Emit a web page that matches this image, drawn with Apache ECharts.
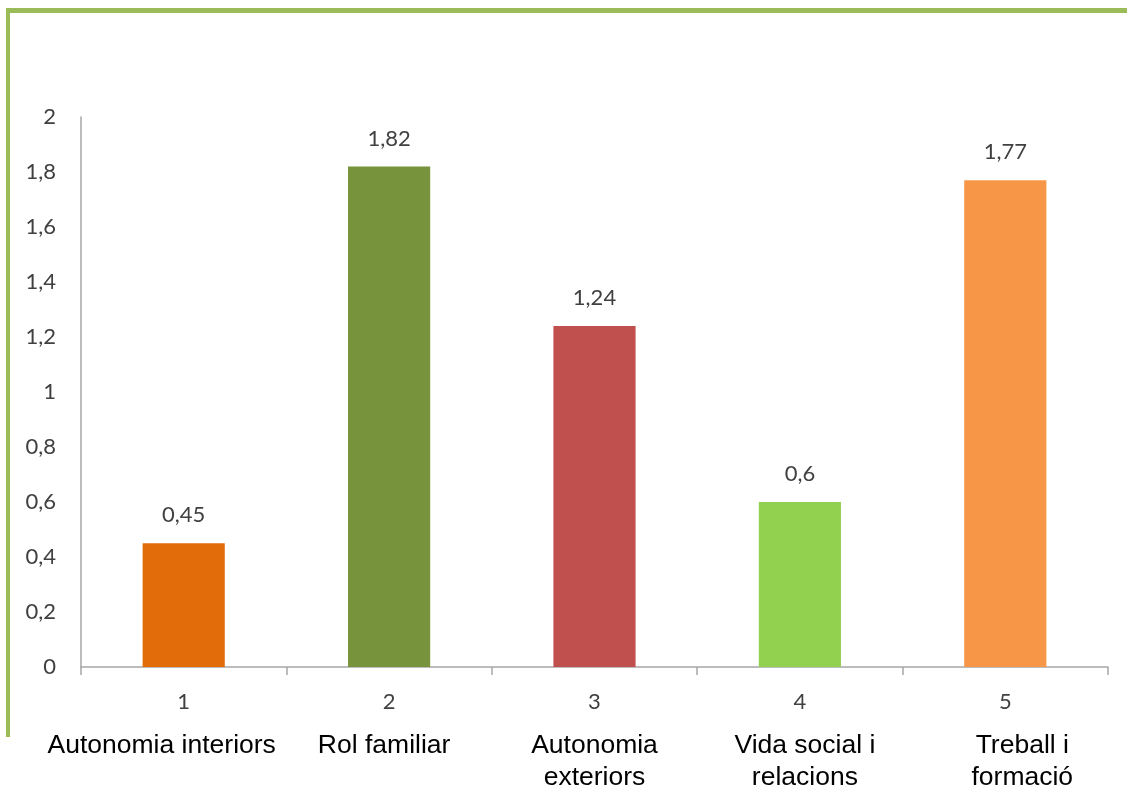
<!DOCTYPE html>
<html>
<head>
<meta charset="utf-8">
<script src="https://cdn.jsdelivr.net/npm/echarts@6/dist/echarts.min.js"></script>
<style>
  html, body { margin: 0; padding: 0; background: #ffffff; overflow: hidden; }
  #chart { width: 1127px; height: 794px; }
</style>
</head>
<body>
<div id="chart"></div>
<script>
// Category numbers, their descriptive names and the mean score for each
const categories = ['1', '2', '3', '4', '5'];
const categoryNames = [
  'Autonomia interiors',
  'Rol familiar',
  'Autonomia\nexteriors',
  'Vida social i\nrelacions',
  'Treball i\nformació'
];
const values = [0.45, 1.82, 1.24, 0.6, 1.77];
const barColors = ['#E36C0A', '#77933C', '#C0504D', '#92D050', '#F79646'];
const yTicks = { min: 0, max: 2, interval: 0.2 };

// horizontal nudge (px) of each descriptive name relative to its column centre
const nameShift = [-22, -5, 0, 5, 17];

const decimalComma = v => String(Math.round(v * 100) / 100).replace('.', ',');

const chart = echarts.init(document.getElementById('chart'), null, {
  renderer: 'canvas', width: 1127, height: 794
});

const axisGrey = '#A6A6A6';
const numberFont = 'Lato, "Open Sans", sans-serif';

chart.setOption({
  backgroundColor: '#ffffff',
  animation: false,
  graphic: [
    // green frame along the top and left edges
    { type: 'rect', shape: { x: 6, y: 8, width: 1121, height: 5 }, style: { fill: '#9BBB59' } },
    { type: 'rect', shape: { x: 6, y: 8, width: 4, height: 729 }, style: { fill: '#9BBB59' } }
  ],
  grid: { left: 81, top: 117, width: 1027, height: 555, containLabel: false },
  xAxis: [
    {
      type: 'category',
      data: categories,
      position: 'bottom',
      axisLine: { show: true, lineStyle: { color: axisGrey, width: 1.5 } },
      axisTick: { show: true, length: 8, alignWithLabel: false, lineStyle: { color: axisGrey, width: 1.5 } },
      axisLabel: { margin: 24, color: '#404040', fontSize: 22, fontFamily: numberFont }
    },
    {
      type: 'category',
      data: categoryNames.map((name, i) => ({
        value: name,
        textStyle: {
          padding: nameShift[i] < 0 ? [0, -2 * nameShift[i], 0, 0] : [0, 0, 0, 2 * nameShift[i]]
        }
      })),
      position: 'bottom',
      offset: 0,
      axisLine: { show: false },
      axisTick: { show: false },
      axisLabel: {
        margin: 63,
        color: '#000000',
        fontSize: 26.5,
        lineHeight: 32,
        fontFamily: '"Liberation Sans", Arial, sans-serif',
        interval: 0
      }
    }
  ],
  yAxis: {
    type: 'value',
    min: yTicks.min,
    max: yTicks.max,
    interval: yTicks.interval,
    axisLine: { show: true, lineStyle: { color: axisGrey, width: 1.5 } },
    axisTick: { show: false },
    splitLine: { show: false },
    axisLabel: {
      margin: 25,
      color: '#404040',
      fontSize: 22,
      fontFamily: numberFont,
      formatter: decimalComma
    }
  },
  series: [{
    type: 'bar',
    xAxisIndex: 0,
    barWidth: '40%',
    data: values.map((v, i) => ({ value: v, itemStyle: { color: barColors[i] } })),
    label: {
      show: true,
      position: 'top',
      distance: 17,
      color: '#404040',
      fontSize: 22,
      fontFamily: numberFont,
      formatter: p => decimalComma(p.value)
    }
  }]
});
</script>
</body>
</html>
